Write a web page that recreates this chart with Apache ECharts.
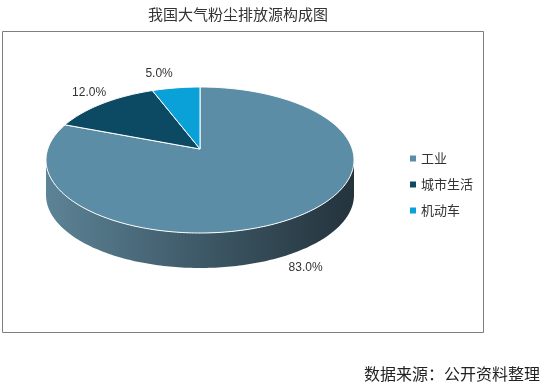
<!DOCTYPE html>
<html>
<head>
<meta charset="utf-8">
<script src="https://cdn.jsdelivr.net/npm/echarts@6/dist/echarts.min.js"></script>
<style>html,body{margin:0;padding:0;background:#fff;}#c{width:542px;height:385px;}</style>
</head>
<body>
<div id="c"></div>
<script>
const titleText = '我国大气粉尘排放源构成图';
const sourceText = '数据来源：公开资料整理';
const categories = ['工业', '城市生活', '机动车'];
const values = [83.0, 12.0, 5.0];
const colors = ['#5b8ea6', '#0c4a63', '#0aa0d8'];

const total = values.reduce((a, b) => a + b, 0);
const geo = { cx: 200, cy: 160, apexDy: -11, rx: 154, ry: 73, depth: 35 };

function pt(a, dy) {
  return [geo.cx + geo.rx * Math.sin(a), geo.cy - geo.ry * Math.cos(a) + (dy || 0)];
}
function arc(a1, a2, dy) {
  const n = Math.max(2, Math.ceil(Math.abs(a2 - a1) / 0.02));
  const out = [];
  for (let k = 0; k <= n; k++) out.push(pt(a1 + (a2 - a1) * k / n, dy));
  return out;
}

function makeRender(idx) {
  return function (params, api) {
    let before = 0;
    for (let j = 0; j < idx; j++) before += values[j];
    const a1 = before / total * Math.PI * 2;
    const a2 = (before + values[idx]) / total * Math.PI * 2;
    const children = [];
    const s1 = Math.max(a1, Math.PI / 2), s2 = Math.min(a2, Math.PI * 1.5);
    if (s2 > s1) {
      const topArc = arc(s1, s2, 0);
      const botArc = arc(s2, s1, geo.depth);
      children.push({
        type: 'polygon', z2: 1,
        shape: { points: topArc.concat(botArc) },
        style: {
          fill: new echarts.graphic.LinearGradient(0, 0, 1, 0, [
            { offset: 0, color: '#5c8396' },
            { offset: 0.5, color: '#3e5967' },
            { offset: 1, color: '#24333c' }
          ]),
          stroke: null
        }
      });
    }
    const apex = [geo.cx, geo.cy + geo.apexDy];
    children.push({
      type: 'polygon', z2: 10,
      shape: { points: [apex].concat(arc(a1, a2, 0)) },
      style: { fill: colors[idx], stroke: '#ffffff', lineWidth: 1 }
    });
    const mid = (a1 + a2) / 2;
    const sn = Math.sin(mid);
    const front = Math.cos(mid) < 0;
    const lx = geo.cx + (geo.rx + 20) * sn;
    const ly = geo.cy - (geo.ry + 14) * Math.cos(mid) + (front ? geo.depth - 2 : 0);
    children.push({
      type: 'text', z2: 20,
      style: {
        text: (values[idx] / total * 100).toFixed(1) + '%',
        x: lx, y: ly,
        fill: '#333333',
        font: '12px Arial, "Liberation Sans", sans-serif',
        align: sn > 0.3 ? 'left' : (sn < -0.3 ? 'center' : 'right'),
        verticalAlign: 'middle'
      }
    });
    return { type: 'group', children: children };
  };
}

const chart = echarts.init(document.getElementById('c'), null, { renderer: 'canvas' });
chart.setOption({
  backgroundColor: '#ffffff',
  animation: false,
  title: {
    text: titleText,
    left: 233, top: 2, textAlign: 'center',
    textStyle: { fontSize: 15, fontWeight: 'normal', color: '#333333', fontFamily: '"Noto Sans CJK SC", sans-serif' }
  },
  legend: {
    data: categories,
    orient: 'vertical',
    left: 405, top: 147,
    icon: 'rect', itemWidth: 6, itemHeight: 6, itemGap: 13,
    textStyle: { fontSize: 13, color: '#333333', fontFamily: '"Noto Sans CJK SC", sans-serif' },
    selectedMode: false
  },
  graphic: [
    { type: 'rect', shape: { x: 2.5, y: 31.5, width: 481, height: 301 }, style: { fill: null, stroke: '#7f7f7f', lineWidth: 1 }, silent: true },
    { type: 'text', right: 2, top: 366, style: { text: sourceText, fill: '#222222', font: '16px "Noto Sans CJK SC", sans-serif' } }
  ],
  series: categories.map((name, i) => ({
    type: 'custom',
    name: name,
    coordinateSystem: 'none',
    silent: true,
    itemStyle: { color: colors[i] },
    data: [[values[i]]],
    renderItem: makeRender(i)
  }))
});
</script>
</body>
</html>
